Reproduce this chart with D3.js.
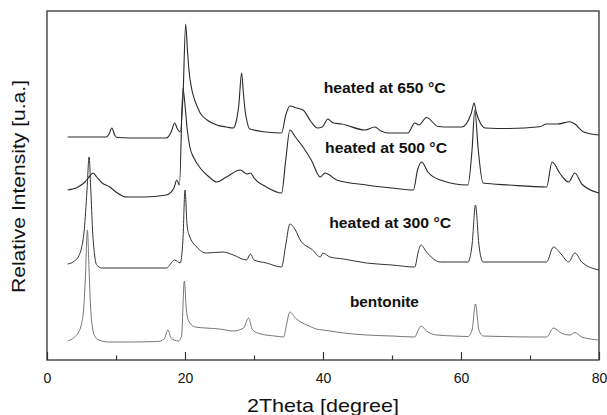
<!DOCTYPE html>
<html><head><meta charset="utf-8">
<script src="https://cdn.jsdelivr.net/npm/d3@7"></script>
<style>
html,body{margin:0;padding:0;background:#fff;}
text{font-family:"Liberation Sans",Arial,Helvetica,sans-serif;fill:#111;}
</style></head>
<body>
<svg id="chart" width="607" height="415"></svg>
<script>
// ---- data (2Theta [degree], relative intensity, stacked offsets included) ----
const xTicksMajor = [0, 20, 40, 60, 80];
const xTicksMinor = [10, 30, 50, 70];
const seriesNames = ["heated at 650 °C", "heated at 500 °C", "heated at 300 °C", "bentonite"];

const heated650 = [[3.0,223],[8.6,223],[9.0,226],[9.4,232],[9.8,225],[10.1,222.5],[14,222],[17.3,222],[18.0,228],[18.5,237],[18.9,231],[19.3,228],
 [19.7,262],[20.1,336],[20.35,310],[20.6,288],[21.0,270],[21.4,260],[21.8,253],[22.2,247],[23.2,240],[24.6,235],[26,233],[27,232],[27.4,238],[27.8,255],
 [28.2,287],[28.45,268],[28.7,250],[29.0,238],[29.4,231],[31.8,228],[34,227],[34.6,245],[35.2,254],[36.2,252],[37.1,250],[38.3,238],[39.2,232],[39.9,233],
 [40.7,241],[41.5,237],[42.7,236],[46.1,230],[47.5,233],[48.4,229],[49.4,227],[52.3,227],[53.3,237],[53.9,235],[55.0,242.5],[56.7,233.5],
 [58.5,233],[60.1,233],[61.5,247],[61.9,257],[62.2,248],[62.6,240],[63.5,232],[67,231.5],[71.4,233.3],[72.4,236],[74,236],[75.8,238.3],
 [76.5,236],[77.7,228.3],[80,225]];

const heated500 = [[3.0,170],[4.5,173],[5.5,178],[6.2,184],[6.7,187],[7.2,183],[8.0,177],[9.1,173],[10,168],[11.5,163],[14,163],[17.3,165],[18.4,172],[18.8,180],[19.2,175],
 [19.7,272],[20.0,255],[20.3,232],[20.7,213],[21.3,202],[22.2,192],[23.5,183],[24.6,178],[26,183],[28,190],[29,186],[29.5,187],[30,182],[31.8,173],
 [34,167],[34.6,200],[35.2,230],[36,223],[37.1,213],[38.3,200],[39.6,183],[40.3,187],[42,180],[46.3,175],[50,172],[53.1,170],[53.7,190],
 [54.3,198],[55.2,188],[57,180],[61,175],[61.6,210],[62.0,250],[62.5,210],[63.2,177],[67,175],[72.4,173],[73.2,198],[74.4,186],[75.6,178],
 [76.5,187],[77.5,176],[80,167]];

const heated300 = [[3.0,96],[4.0,99],[4.6,104],[5.0,112],[5.4,130],[5.8,170],[6.1,203],[6.35,170],[6.6,130],[6.9,105],[7.2,95],[8.0,92],[12,92],[17.3,92],[18.5,100],[19.3,97],
 [19.7,120],[20.0,170],[20.3,135],[20.6,125],[21.7,113],[23.1,107],[25.5,108],[27,105],[28.9,100],[29.5,106],[30,100],[31.8,97],[34,93],
 [34.6,115],[35.2,136],[36,130],[36.7,120],[38.5,110],[39.6,103],[40.0,107],[41,103],[43,101],[46.3,97],[50,95],[53.3,93],[53.8,108],[54.2,115],
 [55,108],[57,98],[61,98],[61.6,115],[62.1,155],[62.6,115],[63.2,98],[67,98],[72.4,98],[73.4,113],[74.5,106],[75.6,98],[76.5,107],[77.5,98],[80,90]];

const bentonite = [[3.0,19],[4.0,23],[4.6,28],[5.0,36],[5.3,50],[5.55,80],[5.85,130],[6.1,90],[6.3,55],[6.6,32],[7.0,23],[7.5,20],[9,18],[12,18],[16,18.5],[17.0,21],
 [17.5,30],[18.0,22],[19.0,19],[19.5,24],[19.9,79],[20.2,50],[20.6,38],[21.5,33],[23,32],[25,31],[27,29],[28.5,32],[29.2,42],[29.8,30],[31,26],
 [33,24],[34.3,23],[34.7,35],[35.2,48],[36,42],[37,37],[38,34],[39,31],[40,30],[41,29],[43,27],[46.3,25],[50,24],[53.3,23],[53.8,30],[54.2,34],
 [55,29],[56.5,25],[59,24],[61,23.5],[61.6,30],[62.1,56],[62.6,30],[63.2,24],[66,23.5],[70,23],[72.4,23],[73.4,32],[74.5,27],[75.8,25],[76.5,27.5],
 [77.5,23],[80,20]];

const seriesData = [heated650, heated500, heated300, bentonite];
// label anchor (2Theta, intensity)
const labelPos = [[40.1,267],[40.3,207],[40.9,132],[43.9,53]];
const labelWidths = [122,122,122,69];

// ---- layout ----
const svg = d3.select("#chart");
const L = 47, R = 599, T = 11, B = 360;
const x = d3.scaleLinear().domain([0, 80]).range([L, R]);
const y = d3.scaleLinear().domain([0, 349]).range([B, T]);

// frame
svg.append("rect").attr("x", L).attr("y", T).attr("width", R - L).attr("height", B - T)
  .attr("fill", "none").attr("stroke", "#333").attr("stroke-width", 1.3);

// major ticks (inward) with labels
const gx = svg.append("g").attr("transform", `translate(0,${B})`)
  .call(d3.axisBottom(x).tickValues(xTicksMajor).tickSizeInner(-8).tickSizeOuter(0).tickPadding(13).tickFormat(d3.format("d")));
gx.select(".domain").remove();
gx.selectAll(".tick line").attr("stroke", "#333").attr("stroke-width", 1.2);
gx.selectAll(".tick text").attr("font-size", 14).attr("fill", "#111")
  .attr("font-family", '"Liberation Sans",Arial,sans-serif');

// minor ticks
const gm = svg.append("g").attr("transform", `translate(0,${B})`)
  .call(d3.axisBottom(x).tickValues(xTicksMinor).tickSizeInner(-4.5).tickSizeOuter(0).tickFormat(""));
gm.select(".domain").remove();
gm.selectAll(".tick line").attr("stroke", "#333").attr("stroke-width", 1.2);

// traces
const line = d3.line().curve(d3.curveMonotoneX).x(d => x(d[0])).y(d => y(d[1]));
const colors = ["#2a2a2a", "#2a2a2a", "#333", "#666"];
const widths = [1.1, 1.1, 1.0, 0.9];
seriesData.forEach((s, i) => {
  svg.append("path").datum(s).attr("d", line).attr("fill", "none")
    .attr("stroke", colors[i]).attr("stroke-width", widths[i]).attr("stroke-linejoin", "round");
});

// series labels
seriesNames.forEach((n, i) => {
  svg.append("text").attr("x", x(labelPos[i][0])).attr("y", y(labelPos[i][1]))
    .attr("font-size", 14).attr("font-weight", "bold")
    .attr("textLength", labelWidths[i]).attr("lengthAdjust", "spacingAndGlyphs")
    .text(n);
});

// axis titles
svg.append("text").attr("x", (L + R) / 2).attr("y", 411.5).attr("text-anchor", "middle")
  .attr("font-size", 19).attr("textLength", 152).attr("lengthAdjust", "spacingAndGlyphs")
  .text("2Theta [degree]");
svg.append("text").attr("transform", "translate(25,186.5) rotate(-90)").attr("text-anchor", "middle")
  .attr("font-size", 19).attr("textLength", 213).attr("lengthAdjust", "spacingAndGlyphs")
  .text("Relative Intensity [u.a.]");
</script>
</body></html>
